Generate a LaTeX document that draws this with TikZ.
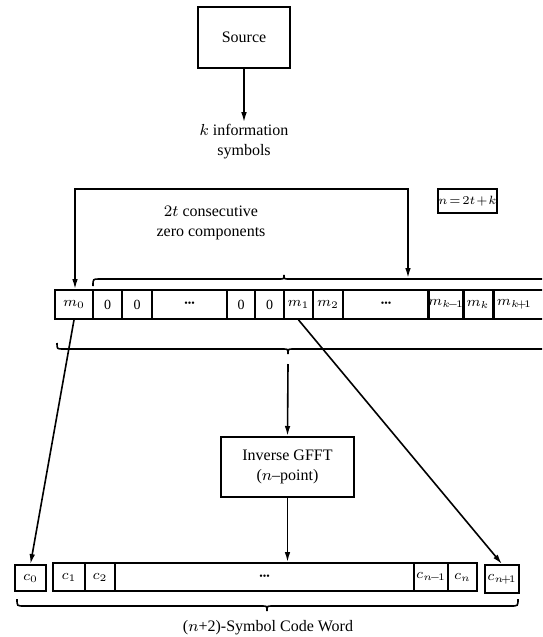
\documentclass[tikz,border=0pt]{standalone}
\usepackage{fontspec}
\setmainfont{Liberation Serif}
\usetikzlibrary{arrows.meta}
\begin{document}
\begin{tikzpicture}[x=0.5pt,y=-0.5pt, font=\fontsize{8}{10}\selectfont,
 box/.style={draw,line width=1pt,inner sep=0pt,align=center},
 cell/.style={draw,line width=0.9pt,inner sep=0pt,font=\fontsize{7}{8}\selectfont},
 mrow/.style={cell,minimum height=14.5pt},
 crow/.style={cell,minimum height=14pt},
 arr/.style={line width=0.8pt,-{Latex[length=5pt,width=2.8pt]}},
 darr/.style={line width=0.8pt,{Latex[length=5pt,width=2.8pt]}-{Latex[length=5pt,width=2.8pt]}},
 brc/.style={line width=0.8pt}]
\useasboundingbox (0,0) rectangle (542,637);
\clip (0,0) rectangle (542,637);

% source
\node[box,minimum width=46pt,minimum height=30.5pt] (src) at (244,37.5) {Source};
\node[align=center,inner sep=1pt] (info) at (244,142) {$k$ information\\symbols};
\draw[arr] (src.south) -- (info.north);

% n = 2t+k
\node[box,minimum width=29.5pt,minimum height=12pt,font=\fontsize{6.5}{8}\selectfont] (eq) at (467.5,201) {$n\!=\!2t\!+\!k$};

% 2t consecutive
\node[align=center,inner sep=1pt] (zc) at (211,223) {$2t$ consecutive\\zero components};

% message row
\node[mrow,minimum width=19pt] (m0) at (74,304.5) {$m_0$};
\node[mrow,minimum width=14.5pt] (z1) at (107.5,304.5) {0};
\node[mrow,minimum width=15pt] (z2) at (137,304.5) {0};
\node[mrow,minimum width=37.5pt] (d1) at (189.5,304.5) {\tiny\textbullet\textbullet\textbullet};
\node[mrow,minimum width=14pt] (z3) at (241,304.5) {0};
\node[mrow,minimum width=14.5pt] (z4) at (269.5,304.5) {0};
\node[mrow,minimum width=14.5pt] (m1) at (298.5,304.5) {$m_1$};
\node[mrow,minimum width=15pt] (m2) at (328,304.5) {$m_2$};
\node[mrow,minimum width=43pt] (d2) at (386,304.5) {\tiny\textbullet\textbullet\textbullet};
\node[mrow,minimum width=17pt] (mk1) at (446,304.5) {$m_{k\!-\!1}$};
\node[mrow,minimum width=15pt] (mk) at (478,304.5) {$m_k$};
\node[mrow,text width=24pt,align=left,inner xsep=1.5pt,anchor=west] (mk2) at (493,304.5) {$m_{k\!+\!1}$};

% top bracket with arrows
\coordinate (tl) at (75,189);
\coordinate (tr) at (408,189);
\coordinate (tb) at (408,278);
\draw[darr] (tl |- m0.north) -- (tl) -- (tr) -- (tb);

% brace above the row
\draw[brc] (93,286) .. controls (93,279) .. (99,279) -- (279,279) .. controls (284,279) .. (284,275) .. controls (284,279) .. (289,279) -- (560,279);
% brace below the row
\draw[brc] (57,343) .. controls (57,349) .. (63,349) -- (283,349) .. controls (288,349) .. (288,354) .. controls (288,349) .. (293,349) -- (560,349);

% inverse GFFT
\node[box,minimum width=66.5pt,minimum height=30pt] (gfft) at (287.5,467) {Inverse GFFT\\($n$--point)};
\coordinate (bc) at (288,364);
\draw[arr] (bc) -- (gfft.north);

% code row
\node[crow,minimum width=15.5pt,minimum height=13pt] (c0) at (30.5,578) {$c_0$};
\node[crow,minimum width=16pt] (c1) at (69,577) {$c_1$};
\node[crow,minimum width=15pt] (c2) at (100,577) {$c_2$};
\node[crow,minimum width=149.5pt] (cd) at (264.5,577) {\tiny\textbullet\textbullet\textbullet};
\node[crow,minimum width=17pt] (cn1) at (431,577) {$c_{n\!-\!1}$};
\node[crow,minimum width=14.5pt] (cn) at (462.5,577) {$c_n$};
\node[crow,minimum width=17pt] (cnp) at (502,579) {$c_{n\!+\!1}$};

\draw[arr] (gfft.south) -- (gfft.south |- cd.north);
\draw[arr] (m0.south) -- (c0.north);
\draw[arr] (m1.south) -- (cnp.north);

% bottom brace
\draw[brc] (17,599) .. controls (17,606) .. (24,606) -- (262,606) .. controls (267,606) .. (267,611) .. controls (267,606) .. (272,606) -- (511,606) .. controls (518,606) .. (518,599);
\node (cw) at (268,628) {($n$+2)-Symbol Code Word};
\end{tikzpicture}
\end{document}
